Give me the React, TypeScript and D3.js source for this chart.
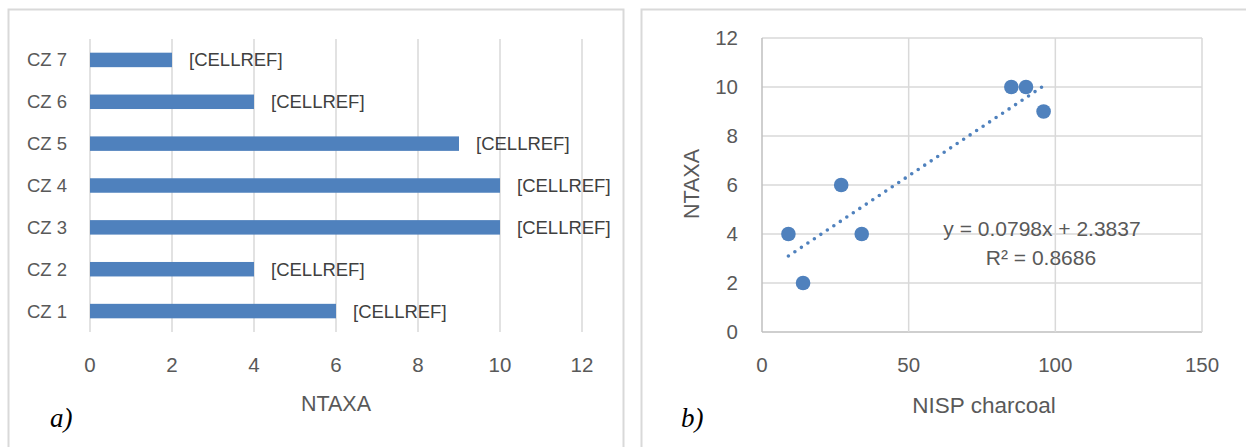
import React from "react";
import * as d3 from "d3";

// ---- data ----
const categories = ["CZ 1", "CZ 2", "CZ 3", "CZ 4", "CZ 5", "CZ 6", "CZ 7"];
const ntaxa = [6, 4, 10, 10, 9, 4, 2];
const barLabel = "[CELLREF]";
const barTicks = [0, 2, 4, 6, 8, 10, 12];

const nispCharcoal = [9, 14, 27, 34, 85, 90, 96];
const ntaxaScatter = [4, 2, 6, 4, 10, 10, 9];
const scatterXTicks = [0, 50, 100, 150];
const scatterYTicks = [0, 2, 4, 6, 8, 10, 12];
const slope = 0.0798;
const intercept = 2.3837;
const equationText = "y = 0.0798x + 2.3837";
const r2Text = "R² = 0.8686";

const TEXT = "#595959";
const GRID = "#D9D9D9";
const AXIS = "#BFBFBF";
const BLUE = "#4F81BD";
const FONT = "'Liberation Sans', Arial, sans-serif";

export default function App() {
  // left chart scales
  const xb = d3.scaleLinear().domain([0, 12]).range([90, 582]);
  const yb = d3
    .scaleBand<string>()
    .domain([...categories].reverse())
    .range([39, 332])
    .paddingInner(0.654)
    .paddingOuter(0.327);

  // right chart scales
  const xs = d3.scaleLinear().domain([0, 150]).range([762, 1202]);
  const ys = d3.scaleLinear().domain([0, 12]).range([332, 38]);
  const xMin = d3.min(nispCharcoal) as number;
  const xMax = d3.max(nispCharcoal) as number;
  const trend = d3
    .line<number>()
    .x((d) => xs(d))
    .y((d) => ys(slope * d + intercept));

  return (
    <svg
      width={1246}
      height={447}
      style={{ position: "absolute", left: 0, top: 0, background: "#fff" }}
      fontFamily={FONT}
    >
      <rect x={0} y={0} width={1246} height={447} fill="#fff" />
      {/* panel borders */}
      <path d="M8.5,460 V9.5 H623.5 V460" fill="none" stroke={GRID} strokeWidth={2} />
      <path d="M641.5,460 V9.5 H1260" fill="none" stroke={GRID} strokeWidth={2} />

      {/* ---------- left: bar chart ---------- */}
      {barTicks.map((t) => (
        <line key={"g" + t} x1={xb(t)} x2={xb(t)} y1={39} y2={332} stroke={GRID} strokeWidth={1.5} />
      ))}
      {categories.map((c, i) => (
        <g key={c}>
          <rect
            x={xb(0)}
            y={yb(c)!}
            width={xb(ntaxa[i]) - xb(0)}
            height={yb.bandwidth()}
            fill={BLUE}
          />
          <text
            x={xb(ntaxa[i]) + 17}
            y={yb(c)! + yb.bandwidth() / 2}
            dy="0.35em"
            fontSize={18.5}
            fill="#404040"
          >
            {barLabel}
          </text>
          <text
            x={67}
            y={yb(c)! + yb.bandwidth() / 2}
            dy="0.35em"
            textAnchor="end"
            fontSize={18.5}
            fill={TEXT}
          >
            {c}
          </text>
        </g>
      ))}
      {barTicks.map((t) => (
        <text key={"t" + t} x={xb(t)} y={372} textAnchor="middle" fontSize={20.5} fill={TEXT}>
          {t}
        </text>
      ))}
      <text x={336} y={411} textAnchor="middle" fontSize={21.5} fill={TEXT}>
        NTAXA
      </text>
      <text x={50} y={427} fontSize={27} fontStyle="italic" fontFamily="'Liberation Serif', 'Times New Roman', serif" fill="#000">
        a)
      </text>

      {/* ---------- right: scatter ---------- */}
      {scatterYTicks.map((t) => (
        <line key={"sy" + t} x1={762} x2={1202} y1={ys(t)} y2={ys(t)} stroke={t === 0 ? AXIS : GRID} strokeWidth={1.5} />
      ))}
      {scatterXTicks.map((t) => (
        <line key={"sx" + t} x1={xs(t)} x2={xs(t)} y1={38} y2={332} stroke={t === 0 ? AXIS : GRID} strokeWidth={1.5} />
      ))}
      {scatterYTicks.map((t) => (
        <text key={"syt" + t} x={738} y={ys(t)} dy="0.35em" textAnchor="end" fontSize={20.5} fill={TEXT}>
          {t}
        </text>
      ))}
      {scatterXTicks.map((t) => (
        <text key={"sxt" + t} x={xs(t)} y={372} textAnchor="middle" fontSize={20.5} fill={TEXT}>
          {t}
        </text>
      ))}
      <path
        d={trend([xMin, xMax]) || ""}
        fill="none"
        stroke={BLUE}
        strokeWidth={3.6}
        strokeLinecap="round"
        strokeDasharray="0 7.8"
      />
      {nispCharcoal.map((x, i) => (
        <circle key={"p" + i} cx={xs(x)} cy={ys(ntaxaScatter[i])} r={7.3} fill={BLUE} />
      ))}
      <text x={1042} y={229} dy="0.35em" textAnchor="middle" fontSize={21} fill={TEXT}>
        {equationText}
      </text>
      <text x={1041} y={258} dy="0.35em" textAnchor="middle" fontSize={21} fill={TEXT}>
        {r2Text}
      </text>
      <text x={984} y={413} textAnchor="middle" fontSize={22.5} fill={TEXT}>
        NISP charcoal
      </text>
      <text
        transform={`translate(699,184) rotate(-90)`}
        textAnchor="middle"
        fontSize={21.5}
        fill={TEXT}
      >
        NTAXA
      </text>
      <text x={681} y={427} fontSize={27} fontStyle="italic" fontFamily="'Liberation Serif', 'Times New Roman', serif" fill="#000">
        b)
      </text>
    </svg>
  );
}
